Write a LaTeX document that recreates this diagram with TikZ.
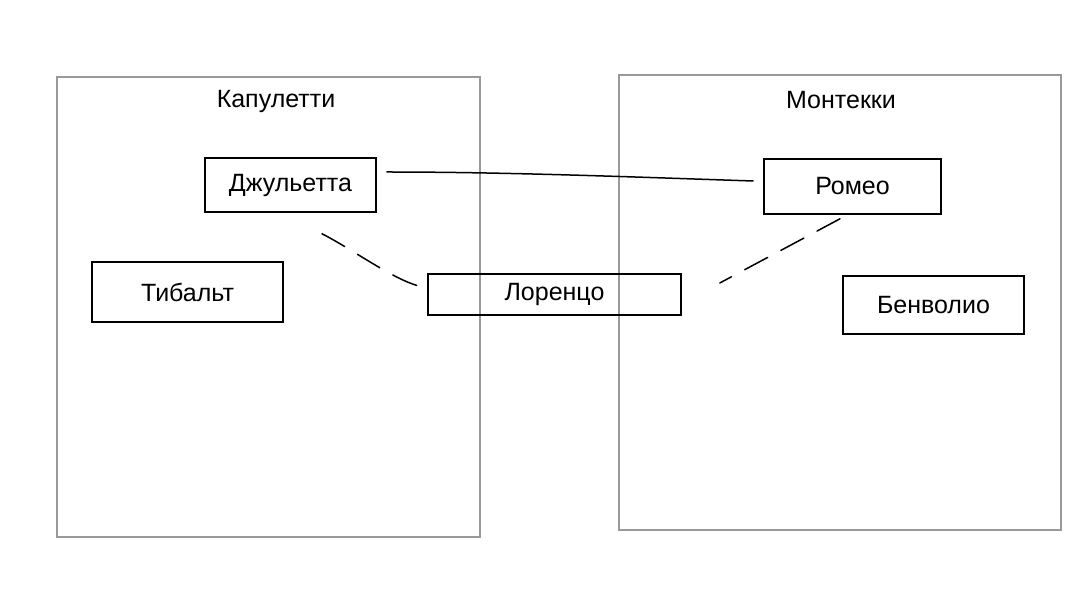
\documentclass[tikz,border=0pt]{standalone}
\usepackage{fontspec}
\setmainfont{Liberation Sans}
\begin{document}
\begin{tikzpicture}[x=1pt,y=-1pt,
  frame/.style={draw=black!40, line width=1.6pt},
  person/.style={draw=black, line width=1.6pt, rectangle, inner sep=0pt, font=\fontsize{25}{28}\selectfont},
  family/.style={font=\fontsize{25}{28}\selectfont, inner sep=0pt},
  tie/.style={draw=black, line width=1.5pt, line cap=round},
  weak/.style={tie, dash pattern=on 26pt off 15pt}
]
\useasboundingbox (0,0) rectangle (1080,601);
\fill[white] (0,0) rectangle (1080,601);
% family frames
\draw[frame] (57,77) rectangle (480,537);
\draw[frame] (619,75) rectangle (1061,530);
\node[family] (cap) at (276,101) {Капулетти};
\node[family] (mon) at (841,100) {Монтекки};
% persons
\node[person, minimum width=171pt, minimum height=54pt] (jul) at (290.5,185) {Джульетта};
\node[person, minimum width=177pt, minimum height=55pt] (rom) at (852.5,186.5) {Ромео};
\node[person, minimum width=191pt, minimum height=60pt] (tib) at (187.5,292) {Тибальт};
\node[person, minimum width=253pt, minimum height=41pt] (lor) at (554.5,294.5) {Лоренцо};
\node[person, minimum width=181pt, minimum height=58pt] (ben) at (933.5,305) {Бенволио};
% connectors
\draw[tie] ([xshift=10pt,yshift=13pt]jul.east) .. controls +(120,0) and +(-120,-4) .. ([xshift=-10pt,yshift=5.5pt]rom.west);
\draw[weak] ([xshift=31.5pt,yshift=-21pt]jul.south) .. controls +(30,15) and +(-25,-3) .. ([xshift=-3pt,yshift=7.5pt]lor.west);
\draw[weak] ([xshift=-12.5pt,yshift=-4pt]rom.south) -- ([xshift=38pt,yshift=11.5pt]lor.east);
\end{tikzpicture}
\end{document}
